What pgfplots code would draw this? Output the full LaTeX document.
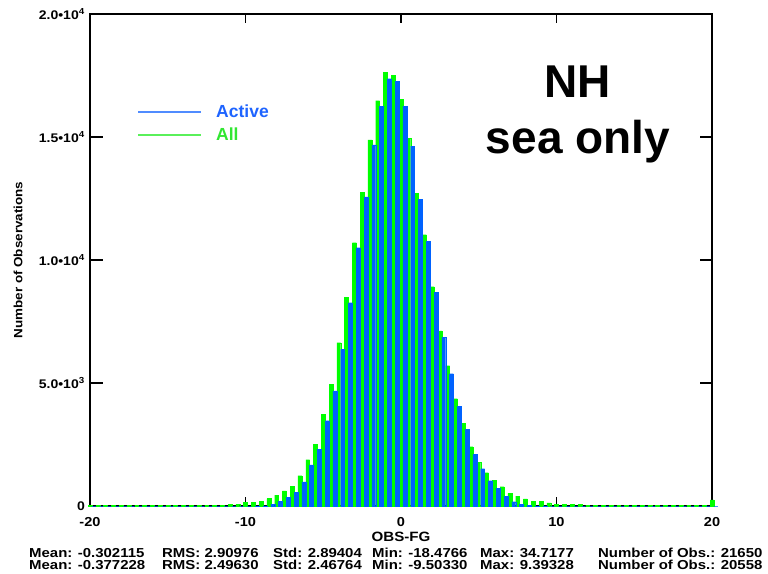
\documentclass[border=0pt]{standalone}
\usepackage{pgfplots}
\pgfplotsset{compat=1.18}
\usepackage{pgfplotstable}
\usepackage{fontspec}
\setmainfont{Liberation Sans}
\usepackage{graphicx}

\definecolor{allgreen}{RGB}{0,255,0}
\definecolor{actblue}{RGB}{0,98,255}
\definecolor{legblue}{RGB}{80,140,255}
\definecolor{leggreen}{RGB}{90,240,90}
\definecolor{txtblue}{RGB}{30,100,255}
\definecolor{txtgreen}{RGB}{50,230,50}

\newcommand{\fs}[1]{\fontsize{#1bp}{#1bp}\selectfont\bfseries}
\newcommand{\tl}[1]{\scalebox{1.12}[1]{#1}}
\newcommand{\st}[3]{\node[anchor=base west, inner sep=0pt, font=\fs{13}] at (#1bp,#2bp) {\scalebox{1.15}[1]{#3}};}

\pgfplotstableread{
x all active
-20.0 25 0
-19.5 25 0
-19.0 25 0
-18.5 25 0
-18.0 25 0
-17.5 25 0
-17.0 25 0
-16.5 25 0
-16.0 25 0
-15.5 25 0
-15.0 25 0
-14.5 25 0
-14.0 25 0
-13.5 25 0
-13.0 25 0
-12.5 25 0
-12.0 30 0
-11.5 40 0
-11.0 81 0
-10.5 81 0
-10.0 140 0
-9.5 140 5
-9.0 190 10
-8.5 300 81
-8.0 440 190
-7.5 610 350
-7.0 810 560
-6.5 1232 976
-6.0 1883 1667
-5.5 2520 2303
-5.0 3727 3469
-4.5 4959 4675
-4.0 6640 6369
-3.5 8483 8266
-3.0 10705 10501
-2.5 12764 12561
-2.0 14878 14675
-1.5 16477 16260
-1.0 17630 17371
-0.5 17520 17263
0.0 16531 16260
0.5 14946 14634
1.0 12710 12467
1.5 11029 10772
2.0 8916 8699
2.5 7114 6857
3.0 5704 5379
3.5 4363 4052
4.0 3360 3116
4.5 2412 2100
5.0 1775 1518
5.5 1355 1030
6.0 1045 710
6.5 786 406
7.0 515 176
7.5 406 81
8.0 285 15
8.5 190 5
9.0 190 5
9.5 122 0
10.0 81 0
10.5 81 0
11.0 60 0
11.5 60 0
12.0 25 0
12.5 25 0
13.0 25 0
13.5 25 0
14.0 25 0
14.5 25 0
15.0 25 0
15.5 25 0
16.0 25 0
16.5 25 0
17.0 25 0
17.5 25 0
18.0 25 0
18.5 25 0
19.0 25 0
19.5 25 0
20.0 244 0
}\histdata

\begin{document}
\begin{tikzpicture}
\begin{axis}[
  at={(0bp,0bp)}, anchor=south west,
  scale only axis, width=622bp, height=492bp,
  xmin=-20, xmax=20, ymin=0, ymax=20000,
  clip=false,
  axis line style={black, line width=1.3bp},
  tick style={black, line width=1.3bp},
  tick align=inside,
  xtick={-20,-10,0,10,20},
  xticklabels={\tl{-20},\tl{-10},\tl{0},\tl{10},\tl{20}},
  ytick={0,5000,10000,15000,20000},
  yticklabels={\tl{0}, \tl{5.0\textbullet10\textsuperscript{3}}, \tl{1.0\textbullet10\textsuperscript{4}}, \tl{1.5\textbullet10\textsuperscript{4}}, \tl{\raisebox{-6.5bp}{2.0\textbullet10\textsuperscript{4}}}},
  scaled y ticks=false,
  xtick style={/pgfplots/major tick length=9bp},
  ytick style={/pgfplots/major tick length=12.5bp},
  xticklabel style={font=\fs{13}, inner sep=0pt, anchor=north, yshift=-11bp},
  yticklabel style={font=\fs{12.5}, inner sep=0pt, anchor=east, xshift=-5bp},
  xlabel={\tl{OBS-FG}},
  xlabel style={font=\fs{13.5}, at={(axis description cs:0.5,-0.063)}, anchor=center},
  ylabel={\tl{Number of Observations}},
  ylabel style={font=\fs{12}, at={(axis description cs:-0.1158,0.5)}, anchor=center},
  legend style={draw=none, fill=none, inner sep=0pt, at={(axis description cs:0.0756,0.818)}, anchor=north west, font=\fs{17.5}, row sep=7bp, nodes={inner sep=1bp}},
  legend cell align=left,
]
\addplot[ybar, bar width=0.25, bar shift=0, fill=allgreen, draw=allgreen, line width=0.3bp, forget plot] table[x=x,y=all]{\histdata};
\addplot[ybar, bar width=0.25, bar shift=0.25, fill=actblue, draw=actblue, line width=0.3bp, forget plot] table[x=x,y=active]{\histdata};
\addlegendimage{legend image code/.code={\draw[legblue, line width=2bp] (0bp,0bp) -- (63bp,0bp);}}
\addlegendentry[text=txtblue]{\hspace{13bp}Active}
\addlegendimage{legend image code/.code={\draw[leggreen, line width=2bp] (0bp,0bp) -- (63bp,0bp);}}
\addlegendentry[text=txtgreen]{\hspace{13bp}All}
\end{axis}
\begin{scope}[shift={(-90bp,-68bp)}]
\node[anchor=base, inner sep=0pt, font=\fs{46}] at (578bp,476bp) {NH};
\node[anchor=base, inner sep=0pt, font=\fs{46}] at (578bp,420bp) {sea only};
\st{29}{17}{Mean: -0.302115}
\st{162}{17}{RMS: 2.90976}
\st{273}{17}{Std: 2.89404}
\st{372}{17}{Min: -18.4766}
\st{480}{17}{Max: 34.7177}
\st{598}{17}{Number of Obs.: 21650}
\st{29}{5}{Mean: -0.377228}
\st{162}{5}{RMS: 2.49630}
\st{273}{5}{Std: 2.46764}
\st{372}{5}{Min: -9.50330}
\st{480}{5}{Max: 9.39328}
\st{598}{5}{Number of Obs.: 20558}
\pgfresetboundingbox
\path[use as bounding box] (0bp,0bp) rectangle (768bp,574bp);
\end{scope}
\end{tikzpicture}
\end{document}
